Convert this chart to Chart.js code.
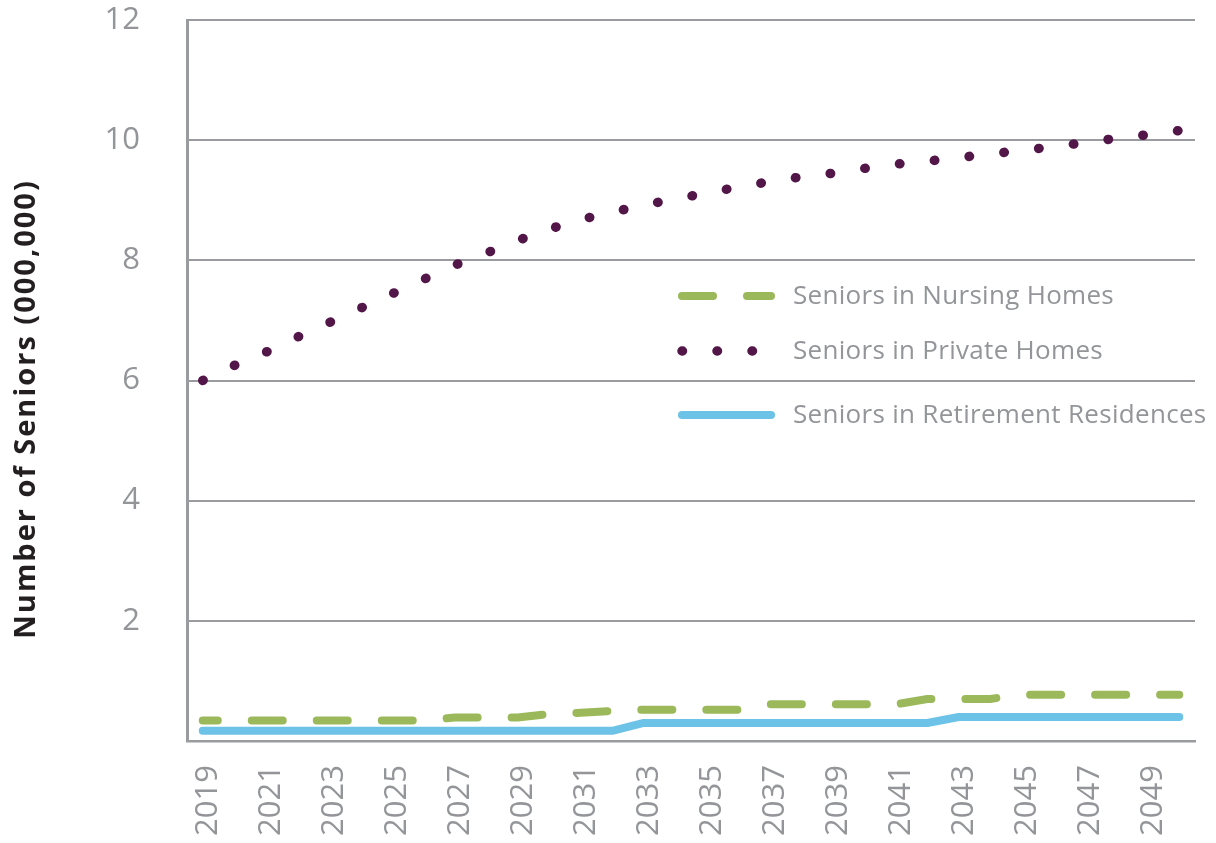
<!DOCTYPE html>
<html>
<head>
<meta charset="utf-8">
<script src="https://cdn.jsdelivr.net/npm/chart.js@4/dist/chart.umd.min.js"></script>
<style>
  html, body { margin: 0; padding: 0; background: #fff; }
  #wrap { width: 1216px; height: 843px; position: relative; }
</style>
</head>
<body>
<div id="wrap"><canvas id="seniorsChart"></canvas></div>
<script>
const years = ['2019','2020','2021','2022','2023','2024','2025','2026','2027','2028','2029','2030','2031','2032','2033','2034',
               '2035','2036','2037','2038','2039','2040','2041','2042','2043','2044','2045','2046','2047','2048','2049','2050'];

const nursingHomes = [0.34, 0.34, 0.34, 0.34, 0.34, 0.34, 0.34, 0.34, 0.39, 0.39, 0.39, 0.45, 0.47, 0.50, 0.52, 0.52,
                      0.52, 0.52, 0.61, 0.61, 0.61, 0.61, 0.61, 0.70, 0.70, 0.70, 0.77, 0.77, 0.77, 0.77, 0.77, 0.77];

const privateHomes = [6.00, 6.25, 6.47, 6.72, 6.96, 7.20, 7.44, 7.68, 7.92, 8.12, 8.33, 8.52, 8.68, 8.80, 8.92, 9.02,
                      9.12, 9.22, 9.31, 9.39, 9.45, 9.53, 9.60, 9.65, 9.71, 9.77, 9.83, 9.89, 9.96, 10.03, 10.09, 10.16];

const retirementRes = [0.17, 0.17, 0.17, 0.17, 0.17, 0.17, 0.17, 0.17, 0.17, 0.17, 0.17, 0.17, 0.17, 0.17, 0.30, 0.30,
                       0.30, 0.30, 0.30, 0.30, 0.30, 0.30, 0.30, 0.30, 0.40, 0.40, 0.40, 0.40, 0.40, 0.40, 0.40, 0.40];

const seriesNames = ['Seniors in Nursing Homes', 'Seniors in Private Homes', 'Seniors in Retirement Residences'];
const yTicks = [2, 4, 6, 8, 10, 12];
const yTitle = 'Number of Seniors (000,000)';

const GRID = '#9a9b9e';
const TEXT = '#939598';
const FONT = "'Open Sans', 'Noto Sans', sans-serif";

// legend drawn inside the plot, plus the rotated axis title
const insideLegend = {
    id: 'insideLegend',
    afterDraw(chart, args, opts) {
        const ctx = chart.ctx;
        ctx.save();
        chart.data.datasets.forEach((ds, i) => {
            const y = opts.rows[i];
            ctx.beginPath();
            ctx.strokeStyle = ds.borderColor;
            ctx.lineWidth = ds.borderWidth;
            ctx.lineCap = 'round';
            ctx.setLineDash(ds.borderDash || []);
            ctx.lineDashOffset = 0;
            ctx.moveTo(opts.x0, y);
            ctx.lineTo(opts.x1, y);
            ctx.stroke();
            ctx.setLineDash([]);
            ctx.fillStyle = TEXT;
            ctx.font = '26px ' + FONT;
            ctx.letterSpacing = '0.3px';
            ctx.textAlign = 'left';
            ctx.textBaseline = 'middle';
            ctx.fillText(ds.label, opts.textX, y + 1);
        });

        // y axis title
        ctx.translate(opts.titleX, opts.titleY);
        ctx.rotate(-Math.PI / 2);
        ctx.fillStyle = '#231f20';
        ctx.font = 'bold 29px ' + FONT;
        ctx.letterSpacing = '2px';
        ctx.textAlign = 'center';
        ctx.textBaseline = 'middle';
        ctx.fillText(yTitle, 0, 0);
        ctx.restore();
    }
};

const noPad = s => { s.paddingTop = 0; s.paddingBottom = 0; s.paddingLeft = 0; s.paddingRight = 0; };

new Chart(document.getElementById('seniorsChart'), {
    type: 'line',
    data: {
        labels: years,
        datasets: [
            {
                label: seriesNames[0],
                data: nursingHomes,
                borderColor: '#9bb95a',
                borderWidth: 8,
                borderDash: [31, 34],
                borderDashOffset: 16,
                borderCapStyle: 'round',
                pointRadius: 0,
                tension: 0
            },
            {
                label: seriesNames[1],
                data: privateHomes,
                borderColor: '#521649',
                borderWidth: 9.5,
                borderDash: [0.5, 34.5],
                borderCapStyle: 'round',
                pointRadius: 0,
                tension: 0
            },
            {
                label: seriesNames[2],
                data: retirementRes,
                borderColor: '#6cc2e7',
                borderWidth: 8,
                borderCapStyle: 'round',
                borderJoinStyle: 'round',
                pointRadius: 0,
                tension: 0
            }
        ]
    },
    options: {
        responsive: true,
        maintainAspectRatio: false,
        animation: false,
        layout: { padding: { top: 20, right: 21, left: 0, bottom: 0 } },
        plugins: {
            legend: { display: false },
            tooltip: { enabled: false },
            insideLegend: { x0: 682, x1: 771, textX: 793, rows: [296, 351, 415], titleX: 27, titleY: 409 }
        },
        scales: {
            x: {
                offset: true,
                grid: { display: false, drawTicks: false },
                border: { display: true, color: GRID, width: 2.5 },
                ticks: {
                    autoSkip: false,
                    minRotation: 90,
                    maxRotation: 90,
                    padding: 24,
                    labelOffset: 5,
                    color: TEXT,
                    font: { family: FONT, size: 31 },
                    callback: (v, i) => (i % 2 === 0 ? years[i] : '')
                },
                afterFit: s => { s.height = 102; noPad(s); }
            },
            y: {
                min: 0,
                max: 12,
                afterBuildTicks: s => { s.ticks = [0].concat(yTicks).map(v => ({ value: v })); },
                grid: { color: GRID, lineWidth: 2, drawTicks: false },
                border: { display: true, color: GRID, width: 3 },
                ticks: {
                    padding: 47,
                    color: TEXT,
                    font: { family: FONT, size: 31 },
                    callback: v => (v === 0 ? '' : v)
                },
                afterFit: s => { s.width = 187; noPad(s); }
            }
        }
    },
    plugins: [insideLegend]
});
</script>
</body>
</html>
